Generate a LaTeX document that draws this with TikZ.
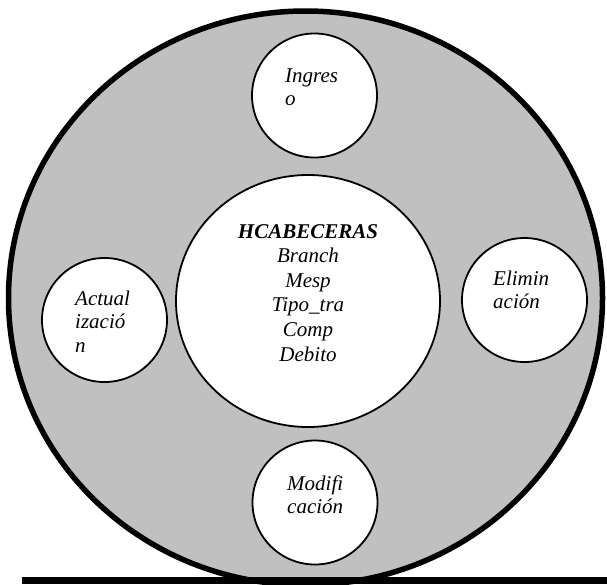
\documentclass[tikz,border=0pt]{standalone}
\usepackage{fontspec}
\setmainfont{Liberation Serif}[Ligatures=NoCommon]
\usetikzlibrary{shapes.geometric}
\definecolor{ringgray}{RGB}{192,192,192}
\tikzset{
  ring/.style={ellipse, draw=black, fill=ringgray, line width=5.5pt, inner sep=0pt},
  bubble/.style={ellipse, draw=black, fill=white, line width=1.8pt, inner sep=0pt},
  small bubble/.style={bubble, minimum width=125pt, minimum height=124pt},
  bubble text/.style={anchor=base west, inner sep=0pt, font=\itshape\fontsize{21}{23.5}\selectfont},
  core text/.style={anchor=base, inner sep=0pt, font=\itshape\fontsize{21}{24.6}\selectfont},
}
\begin{document}
\begin{tikzpicture}[x=1pt,y=-1pt]
\useasboundingbox (0,0) rectangle (607,584);
\clip (0,0) rectangle (607,584);
% outer grey ring
\node[ring, minimum width=594pt, minimum height=574pt] (outer) at (305.5,298) {};
% central table
\node[bubble, minimum width=264pt, minimum height=252pt] (core) at (308,301) {};
% operation bubbles
\node[small bubble] (ingreso) at (314.5,95.5) {};
\node[small bubble] (actualizacion) at (104.5,320) {};
\node[small bubble] (eliminacion) at (524.5,300) {};
\node[small bubble] (modificacion) at (315,502.5) {};
% texts
\node[core text] (coretext) at (308,238)
  {\begin{tabular}[t]{@{}c@{}}\textbf{HCABECERAS}\\Branch\\Mesp\\Tipo\_tra\\Comp\\Debito\end{tabular}};
\node[bubble text] (ingresotext) at (285,82)
  {\begin{tabular}[t]{@{}l@{}}Ingres\\o\end{tabular}};
\node[bubble text] (actualizaciontext) at (75,305)
  {\begin{tabular}[t]{@{}l@{}}Actual\\izació\\n\end{tabular}};
\node[bubble text] (eliminaciontext) at (493,285)
  {\begin{tabular}[t]{@{}l@{}}Elimin\\ación\end{tabular}};
\node[bubble text] (modificaciontext) at (287,490)
  {\begin{tabular}[t]{@{}l@{}}Modifi\\cación\end{tabular}};
% base bar
\fill[black] (22,577) rectangle (607,584);
\end{tikzpicture}
\end{document}
